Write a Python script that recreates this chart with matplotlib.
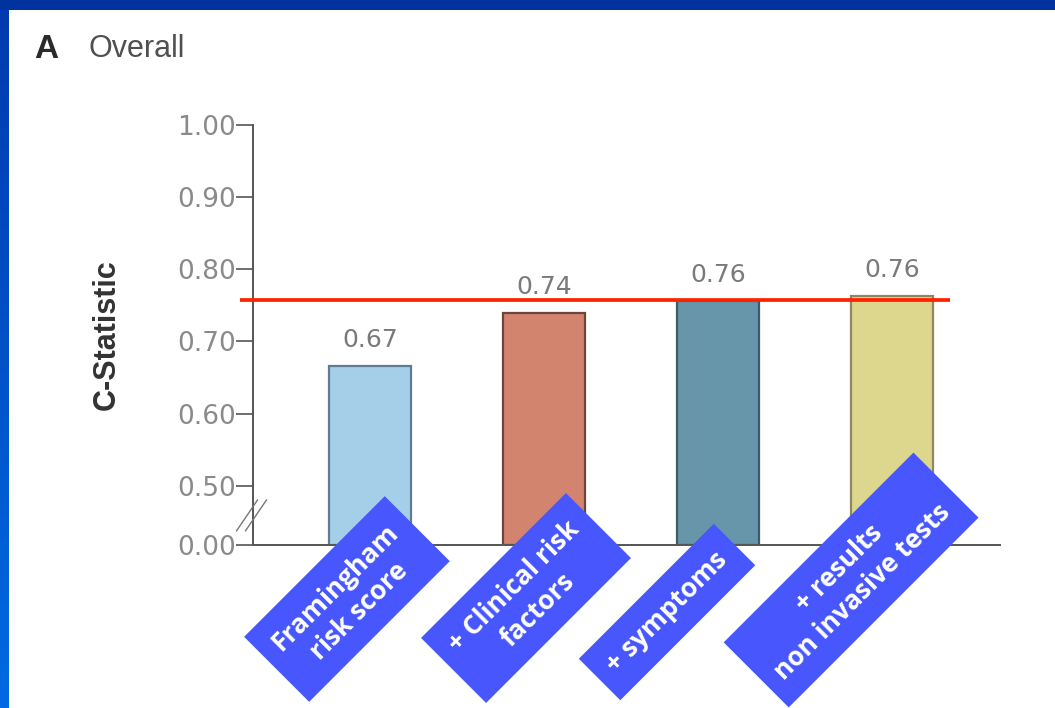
import numpy as np
import matplotlib
matplotlib.use("Agg")
import matplotlib.pyplot as plt
from matplotlib.patches import Rectangle

# ---- data ----
categories = ["Framingham\nrisk score", "+ Clinical risk\nfactors",
              "+ symptoms", "+ results\nnon invasive tests"]
c_statistic = [0.666, 0.739, 0.756, 0.763]
reference_level = 0.758
y_ticks = [0.0, 0.5, 0.6, 0.7, 0.8, 0.9, 1.0]

bar_colors = ["#a5cfe8", "#d3846f", "#6795a9", "#ddd78e"]
edge_colors = ["#5d7d92", "#6a463c", "#3f5b69", "#8c8760"]

# broken axis: 0 .. 0.5 squeezed into a short stub below 0.5
ZERO_POS = 0.418


def fwd(v):
    v = np.asarray(v, dtype=float)
    return np.where(v < 0.5, ZERO_POS + v * ((0.5 - ZERO_POS) / 0.5), v)


def inv(u):
    u = np.asarray(u, dtype=float)
    return np.where(u < 0.5, (u - ZERO_POS) * (0.5 / (0.5 - ZERO_POS)), u)


W, H = 1055, 708
fig = plt.figure(figsize=(W / 100, H / 100), dpi=100, facecolor="white")

# slide frame: dark band on top, gradient band on the left
fig.patches.append(Rectangle((0, 1 - 10 / H), 1, 10 / H, transform=fig.transFigure,
                             facecolor="#0033a0", edgecolor="none", zorder=0))
gax = fig.add_axes([0, 0, 9 / W, 1 - 10 / H])
grad = np.linspace(0, 1, 256).reshape(-1, 1)
top_c = np.array([0x00, 0x3a, 0xb0]) / 255
bot_c = np.array([0x00, 0x6a, 0xe2]) / 255
img = top_c[None, None, :] * (1 - grad[:, :, None]) + bot_c[None, None, :] * grad[:, :, None]
gax.imshow(img, aspect="auto", extent=(0, 1, 0, 1), origin="upper")
gax.axis("off")

ax = fig.add_axes([253 / W, 1 - 545 / H, (1000 - 253) / W, (545 - 125) / H])
ax.set_yscale("function", functions=(fwd, inv))
ax.set_ylim(0, 1.0)
ax.set_xlim(-0.672, 3.62)

x = np.arange(len(categories))
ax.bar(x, c_statistic, width=0.47, color=bar_colors, edgecolor=edge_colors,
       linewidth=1.6, zorder=2)

for xi, v in zip(x, c_statistic):
    ax.annotate(f"{v:.2f}", xy=(xi, v), xytext=(0, 26), textcoords="offset pixels",
                ha="center", va="center", fontsize=18, color="#7a7a7a",
                family="DejaVu Sans")

# reference line
ax.plot([-0.747, 3.333], [reference_level, reference_level], color="#ff2200",
        lw=2.7, solid_capstyle="butt", clip_on=False, zorder=4)

# axes styling
for s in ["top", "right"]:
    ax.spines[s].set_visible(False)
for s in ["left", "bottom"]:
    ax.spines[s].set_color("#555555")
    ax.spines[s].set_linewidth(1.4)
ax.set_yticks(y_ticks)
ax.set_yticklabels([f"{t:.2f}" for t in y_ticks])
ax.tick_params(axis="y", length=12, width=1.2, color="#555555", labelsize=19,
               labelcolor="#8a8a8a", pad=0)
ax.tick_params(axis="x", length=0, labelbottom=False)
ax.set_ylabel("C-Statistic", fontsize=22, fontweight="bold", color="#333333",
              family="Liberation Sans", labelpad=40)

# axis break mark
bx = ax.get_yaxis_transform()
for dx in (-0.006, 0.006):
    ax.plot([-0.016 + dx, 0.012 + dx], [0.12, 0.38], transform=bx, color="#777777",
            lw=1.0, clip_on=False, zorder=5)

# rotated category boxes
box_offsets = [(-23, -54), (-18, -53), (-51, -67), (-41, -35)]
for xi, lab, (ox, oy) in zip(x, categories, box_offsets):
    ax.annotate(lab, xy=(xi, 0), xycoords=("data", "axes fraction"),
                xytext=(ox, oy), textcoords="offset pixels",
                ha="center", va="center", rotation=45, rotation_mode="anchor",
                multialignment="center", fontsize=19, fontweight="bold",
                color="white", family="Open Sans", linespacing=1.3,
                annotation_clip=False, zorder=6,
                bbox=dict(boxstyle="square,pad=0.6", facecolor="#4757fd",
                          edgecolor="none"))

# panel title
fig.text(34 / W, 1 - 49 / H, "A", fontsize=24, fontweight="bold", color="#2a2a2a",
         family="Liberation Sans", va="center", ha="left")
fig.text(88 / W, 1 - 49 / H, "Overall", fontsize=22, color="#505050",
         family="Liberation Sans", va="center", ha="left")

fig.savefig("out.png", dpi=100, facecolor="white")
